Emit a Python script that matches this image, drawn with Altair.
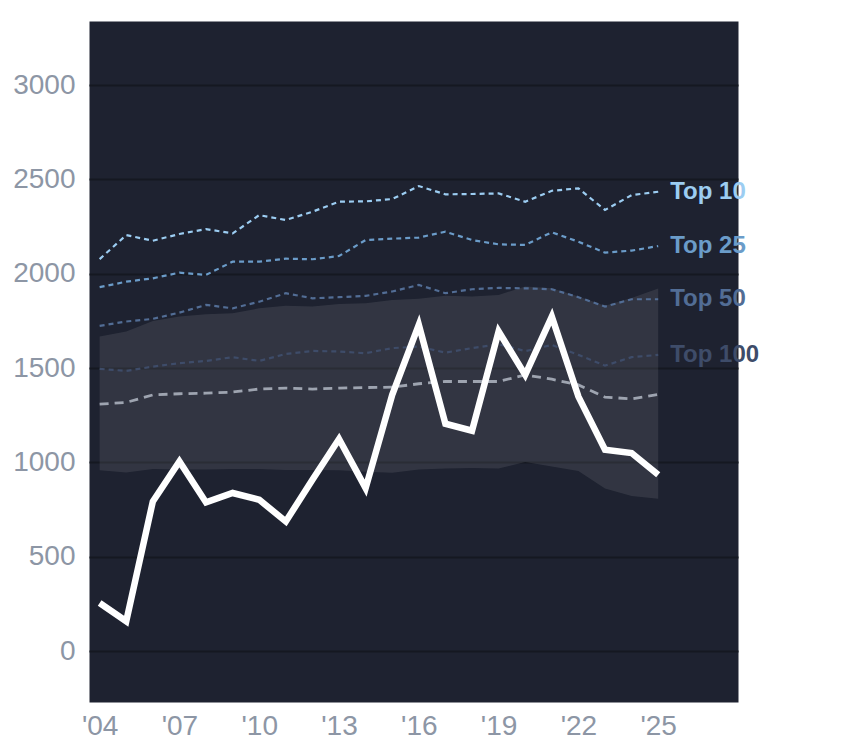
import altair as alt
import pandas as pd

years = list(range(2004, 2026))
player = [255, 158, 793, 1005, 788, 838, 802, 687, 908, 1124, 864, 1358, 1729, 1205, 1168, 1694, 1464, 1773, 1349, 1067, 1050, 935]
top10 = [2078, 2205, 2175, 2211, 2237, 2214, 2311, 2285, 2329, 2382, 2384, 2396, 2465, 2421, 2423, 2426, 2382, 2440, 2453, 2338, 2417, 2435]
top25 = [1929, 1958, 1976, 2006, 1994, 2064, 2064, 2080, 2077, 2094, 2179, 2186, 2192, 2223, 2179, 2156, 2153, 2220, 2170, 2112, 2123, 2147]
top50 = [1724, 1747, 1761, 1794, 1835, 1817, 1852, 1897, 1870, 1876, 1883, 1906, 1941, 1897, 1918, 1925, 1923, 1918, 1876, 1826, 1865, 1865]
top100 = [1496, 1485, 1508, 1526, 1538, 1558, 1538, 1575, 1591, 1588, 1579, 1606, 1614, 1582, 1606, 1627, 1590, 1623, 1570, 1513, 1558, 1570]
median = [1309, 1318, 1358, 1364, 1367, 1373, 1389, 1394, 1389, 1394, 1397, 1399, 1417, 1429, 1429, 1429, 1464, 1441, 1411, 1346, 1337, 1360]
band_low = [958, 947, 965, 963, 963, 965, 965, 960, 960, 958, 950, 945, 963, 968, 970, 968, 1002, 978, 955, 862, 822, 808]
band_high = [1667, 1694, 1750, 1773, 1786, 1791, 1817, 1831, 1826, 1840, 1844, 1861, 1867, 1883, 1879, 1888, 1932, 1923, 1879, 1830, 1872, 1922]

tier_names = ["Top 10", "Top 25", "Top 50", "Top 100"]
tier_values = [top10, top25, top50, top100]
tier_colors = ["#9ccdf2", "#6b9cc9", "#526d95", "#3e4c69"]

FONT = "Liberation Sans"

xscale = alt.Scale(domain=[2003.6, 2028.0], nice=False, zero=False)
yscale = alt.Scale(domain=[-270, 3340], nice=False, zero=False)

xaxis = alt.Axis(
    values=[2004, 2007, 2010, 2013, 2016, 2019, 2022, 2025],
    labelExpr="\"'\" + substring(toString(datum.value), 2, 4)",
    grid=False, ticks=False, domain=False, title=None,
    labelFont=FONT, labelFontSize=28, labelColor="#8d96a5", labelPadding=10,
)
yaxis = alt.Axis(
    values=[0, 500, 1000, 1500, 2000, 2500, 3000], format="d",
    grid=True, gridColor="#151821", gridWidth=2,
    ticks=False, domain=False, title=None,
    labelFont=FONT, labelFontSize=28, labelColor="#8d96a5", labelPadding=14,
)

df = pd.DataFrame({"year": years, "player": player, "median": median,
                   "low": band_low, "high": band_high})

band = alt.Chart(df).mark_area(color="#ffffff", opacity=0.09).encode(
    x=alt.X("year:Q", scale=xscale, axis=xaxis),
    y=alt.Y("low:Q", scale=yscale, axis=yaxis),
    y2="high:Q",
)

layers = [band]
for name, vals, col in zip(tier_names, tier_values, tier_colors):
    d = pd.DataFrame({"year": years, "v": vals})
    layers.append(
        alt.Chart(d).mark_line(color=col, strokeWidth=2.2, strokeDash=[5, 4]).encode(
            x=alt.X("year:Q", scale=xscale), y=alt.Y("v:Q", scale=yscale)
        )
    )

layers.append(
    alt.Chart(df).mark_line(color="#9ea4b0", strokeWidth=2.8, strokeDash=[9, 6]).encode(
        x=alt.X("year:Q", scale=xscale), y=alt.Y("median:Q", scale=yscale)
    )
)
layers.append(
    alt.Chart(df).mark_line(color="#ffffff", strokeWidth=6.5, strokeJoin="miter").encode(
        x=alt.X("year:Q", scale=xscale), y=alt.Y("player:Q", scale=yscale)
    )
)

lab = pd.DataFrame({
    "name": tier_names,
    "year": [years[-1]] * 4,
    "v": [v[-1] for v in tier_values],
    "col": tier_colors,
})
layers.append(
    alt.Chart(lab).mark_text(align="left", baseline="middle", dx=12, font=FONT,
                             fontSize=24, fontWeight="bold").encode(
        x=alt.X("year:Q", scale=xscale), y=alt.Y("v:Q", scale=yscale),
        text="name:N", color=alt.Color("col:N", scale=None),
    )
)

chart = alt.layer(*layers).properties(
    width=649, height=681,
    autosize=alt.AutoSizeParams(type="none"),
    padding={"left": 81, "top": 13, "right": 90, "bottom": 40},
    background="#ffffff",
).configure_view(fill="#1e2230", stroke="transparent")

chart.save("out.html", embed_options={"renderer": "svg", "actions": False})
